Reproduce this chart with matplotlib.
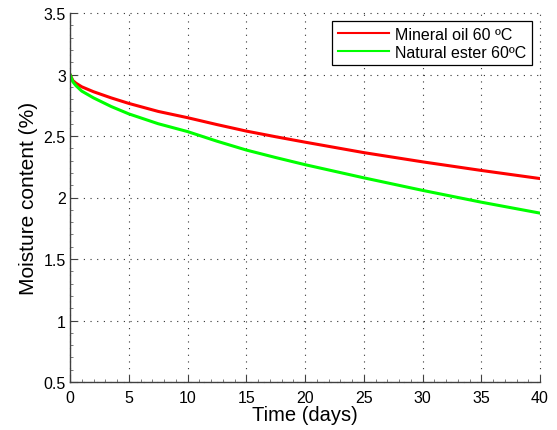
import matplotlib
matplotlib.use("Agg")
import matplotlib.pyplot as plt
from matplotlib.ticker import MultipleLocator

plt.rcParams['font.family'] = ['Liberation Sans', 'DejaVu Sans']

time_days = [0, 0.25, 0.5, 1, 2, 3.5, 5, 7.5, 10, 12.5, 15, 17.5, 20, 25, 30, 35, 40]
mineral_oil = [3.0, 2.95, 2.93, 2.90, 2.86, 2.81, 2.765, 2.70, 2.649, 2.593, 2.54, 2.494, 2.45, 2.365, 2.29, 2.22, 2.154]
natural_ester = [3.0, 2.94, 2.91, 2.865, 2.81, 2.74, 2.68, 2.60, 2.536, 2.458, 2.386, 2.325, 2.267, 2.16, 2.058, 1.962, 1.873]

labels = ['Mineral oil 60 ºC', 'Natural ester 60ºC']
xticks = [0, 5, 10, 15, 20, 25, 30, 35, 40]
yticks = [0.5, 1, 1.5, 2, 2.5, 3, 3.5]
ytick_labels = ['0.5', '1', '1.5', '2', '2.5', '3', '3.5']

fig = plt.figure(figsize=(5.57, 4.31), dpi=100)
ax = fig.add_axes([70/557, 48/431, 470/557, 369/431])

ax.plot(time_days, mineral_oil, color=(1, 0, 0), lw=2.2, label=labels[0])
ax.plot(time_days, natural_ester, color=(0, 1, 0), lw=2.2, label=labels[1])

ax.set_xlim(0, 40)
ax.set_ylim(0.5, 3.5)
ax.set_xticks(xticks)
ax.set_yticks(yticks)
ax.set_yticklabels(ytick_labels)
ax.xaxis.set_minor_locator(MultipleLocator(1))
ax.yaxis.set_minor_locator(MultipleLocator(0.1))

for s in ['top', 'right']:
    ax.spines[s].set_visible(False)
for s in ['left', 'bottom']:
    ax.spines[s].set_color('0.25')
    ax.spines[s].set_linewidth(1.0)

ax.tick_params(which='major', direction='in', length=5, width=0.8, colors='0.25',
               labelcolor='black', labelsize=11.5)
ax.tick_params(axis='x', which='major', pad=6)
ax.tick_params(axis='y', which='major', pad=3)
ax.tick_params(which='minor', direction='in', length=2.5, width=0.6, colors='0.4')

ax.grid(True, which='major', linestyle=(0, (1, 5)), color='0.2', linewidth=0.8)
for gl in ax.get_xgridlines() + ax.get_ygridlines():
    gl.set_clip_on(False)

ax.set_xlabel('Time (days)', fontsize=14.5, labelpad=0)
ax.set_ylabel('Moisture content (%)', fontsize=15, labelpad=4)

leg = ax.legend(loc='upper right', fontsize=11.5, frameon=True, fancybox=False,
                edgecolor='black', framealpha=1, borderpad=0.35, handlelength=3.2,
                handletextpad=0.4, labelspacing=0.2, borderaxespad=0.5)
leg.get_frame().set_linewidth(0.9)
for ln in leg.get_lines():
    ln.set_linewidth(1.5)

fig.savefig('out.png', dpi=100)
